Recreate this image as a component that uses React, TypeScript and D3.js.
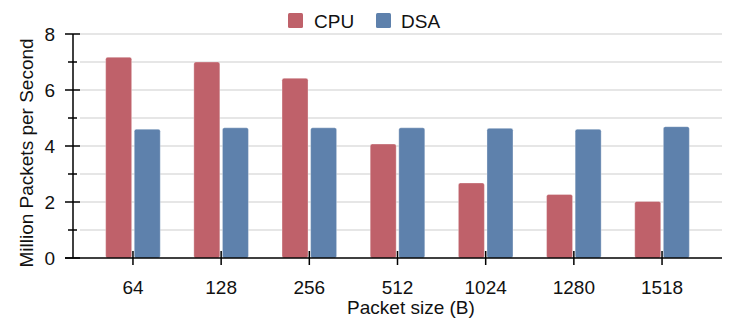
import React from "react";
import * as d3 from "d3";

const categories = ["64", "128", "256", "512", "1024", "1280", "1518"];
const series = ["CPU", "DSA"];
const cpuValues = [7.17, 7.0, 6.42, 4.07, 2.68, 2.27, 2.02];
const dsaValues = [4.6, 4.65, 4.65, 4.65, 4.63, 4.6, 4.69];
const majorTicks = [0, 2, 4, 6, 8];
const minorTicks = [1, 3, 5, 7];
const colors = { CPU: "#bf616a", DSA: "#5e81ac" };

const W = 731;
const H = 321;
const left = 73;
const right = 722;
const top = 34;
const bottom = 258;
const font = "'Liberation Sans', Arial, Helvetica, sans-serif";

const App = () => {
  const x = d3.scalePoint().domain(categories).range([left, right]).padding(0.68);
  const inner = d3.scaleBand().domain(series).range([-27.3, 27.3]).paddingInner(0.091);
  const y = d3.scaleLinear().domain([0, 8]).range([bottom, top]);

  const rows = categories.map((c, i) => ({ cat: c, CPU: cpuValues[i], DSA: dsaValues[i] }));
  const gridVals = d3.range(1, 9);

  return (
    <svg width={W} height={H} style={{ position: "absolute", left: 0, top: 0, fontFamily: font }}>
      <rect width={W} height={H} fill="#fff" />
      {/* grid */}
      {gridVals.map((v) => (
        <line key={"g" + v} x1={left + 7} x2={right} y1={y(v)} y2={y(v)} stroke="#dedede" strokeWidth={1.5} />
      ))}
      {/* bars */}
      {rows.map((r) =>
        series.map((s) => (
          <rect
            key={r.cat + s}
            x={x(r.cat) + inner(s)}
            y={y(r[s])}
            width={inner.bandwidth()}
            height={y(0) - y(r[s])}
            rx={2}
            fill={colors[s]}
            stroke="#ffffff"
            strokeOpacity={0.4}
            strokeWidth={0.8}
          />
        ))
      )}
      {/* y axis */}
      <line x1={left} x2={left} y1={top} y2={bottom} stroke="#000" strokeWidth={1.5} />
      {majorTicks.map((v) => (
        <g key={"M" + v}>
          <line x1={left - 8} x2={left + 7} y1={y(v)} y2={y(v)} stroke="#000" strokeWidth={1.5} />
          <text x={55} y={y(v)} dy="0.35em" textAnchor="end" fontSize={19} fill="#111">
            {v}
          </text>
        </g>
      ))}
      {minorTicks.map((v) => (
        <line key={"m" + v} x1={left - 5} x2={left + 4} y1={y(v)} y2={y(v)} stroke="#000" strokeWidth={1.5} />
      ))}
      {/* x axis */}
      <line x1={left - 8} x2={right} y1={bottom} y2={bottom} stroke="#000" strokeWidth={1.5} />
      {categories.map((c) => (
        <g key={"x" + c}>
          <line x1={x(c)} x2={x(c)} y1={bottom - 7} y2={bottom + 7} stroke="#000" strokeWidth={1.5} />
          <text x={x(c)} y={294} textAnchor="middle" fontSize={19} fill="#111">
            {c}
          </text>
        </g>
      ))}
      {/* axis labels */}
      <text x={411} y={314} textAnchor="middle" fontSize={19} fill="#111">
        Packet size (B)
      </text>
      <text transform={`translate(33,153) rotate(-90)`} textAnchor="middle" fontSize={19} fill="#111">
        Million Packets per Second
      </text>
      {/* legend */}
      <rect x={288} y={13} width={15} height={15} rx={1.5} fill={colors.CPU} />
      <text x={314} y={27.5} fontSize={19} fill="#111">CPU</text>
      <rect x={376} y={13} width={15} height={15} rx={1.5} fill={colors.DSA} />
      <text x={401} y={27.5} fontSize={19} fill="#111">DSA</text>
    </svg>
  );
};

export default App;
